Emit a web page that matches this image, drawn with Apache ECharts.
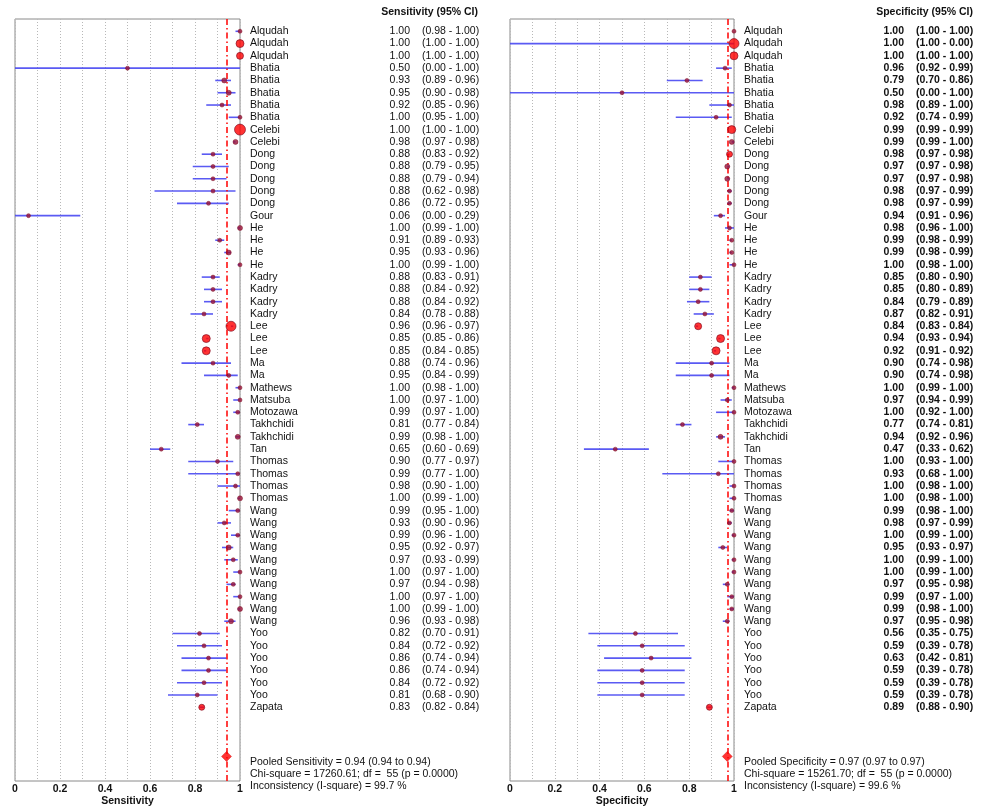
<!DOCTYPE html>
<html><head><meta charset="utf-8">
<script src="https://cdn.jsdelivr.net/npm/echarts@6/dist/echarts.min.js"></script>
<style>html,body{margin:0;padding:0;background:#fff}#c{width:981px;height:809px}</style>
</head><body><div id="c"></div>
<script>
const studies = ['Alqudah','Alqudah','Alqudah','Bhatia','Bhatia','Bhatia','Bhatia','Bhatia','Celebi','Celebi',
 'Dong','Dong','Dong','Dong','Dong','Gour','He','He','He','He','Kadry','Kadry','Kadry','Kadry',
 'Lee','Lee','Lee','Ma','Ma','Mathews','Matsuba','Motozawa','Takhchidi','Takhchidi','Tan',
 'Thomas','Thomas','Thomas','Thomas','Wang','Wang','Wang','Wang','Wang','Wang','Wang','Wang','Wang','Wang',
 'Yoo','Yoo','Yoo','Yoo','Yoo','Yoo','Zapata'];

const sensEst = [1.00,1.00,1.00,0.50,0.93,0.95,0.92,1.00,1.00,0.98,
 0.88,0.88,0.88,0.88,0.86,0.06,1.00,0.91,0.95,1.00,0.88,0.88,0.88,0.84,
 0.96,0.85,0.85,0.88,0.95,1.00,1.00,0.99,0.81,0.99,0.65,
 0.90,0.99,0.98,1.00,0.99,0.93,0.99,0.95,0.97,1.00,0.97,1.00,1.00,0.96,
 0.82,0.84,0.86,0.86,0.84,0.81,0.83];
const sensLo = [0.98,1.00,1.00,0.00,0.89,0.90,0.85,0.95,1.00,0.97,
 0.83,0.79,0.79,0.62,0.72,0.00,0.99,0.89,0.93,0.99,0.83,0.84,0.84,0.78,
 0.96,0.85,0.84,0.74,0.84,0.98,0.97,0.97,0.77,0.98,0.60,
 0.77,0.77,0.90,0.99,0.95,0.90,0.96,0.92,0.93,0.97,0.94,0.97,0.99,0.93,
 0.70,0.72,0.74,0.74,0.72,0.68,0.82];
const sensHi = [1.00,1.00,1.00,1.00,0.96,0.98,0.96,1.00,1.00,0.98,
 0.92,0.95,0.94,0.98,0.95,0.29,1.00,0.93,0.96,1.00,0.91,0.92,0.92,0.88,
 0.97,0.86,0.85,0.96,0.99,1.00,1.00,1.00,0.84,1.00,0.69,
 0.97,1.00,1.00,1.00,1.00,0.96,1.00,0.97,0.99,1.00,0.98,1.00,1.00,0.98,
 0.91,0.92,0.94,0.94,0.92,0.90,0.84];
const sensWeight = [4,8,7,4,5,5,4,4,11,5,
 4,4,4,4,4,4,5,4,5,4,4,4,4,4,
 10,8,8,4,4,4,4,4,4,5,4,
 4,4,4,5,4,4,4,5,4,4,4,4,5,5,
 4,4,4,4,4,4,6];

const specEst = [1.00,1.00,1.00,0.96,0.79,0.50,0.98,0.92,0.99,0.99,
 0.98,0.97,0.97,0.98,0.98,0.94,0.98,0.99,0.99,1.00,0.85,0.85,0.84,0.87,
 0.84,0.94,0.92,0.90,0.90,1.00,0.97,1.00,0.77,0.94,0.47,
 1.00,0.93,1.00,1.00,0.99,0.98,1.00,0.95,1.00,1.00,0.97,0.99,0.99,0.97,
 0.56,0.59,0.63,0.59,0.59,0.59,0.89];
const specLo = [1.00,1.00,1.00,0.92,0.70,0.00,0.89,0.74,0.99,0.99,
 0.97,0.97,0.97,0.97,0.97,0.91,0.96,0.98,0.98,0.98,0.80,0.80,0.79,0.82,
 0.83,0.93,0.91,0.74,0.74,0.99,0.94,0.92,0.74,0.92,0.33,
 0.93,0.68,0.98,0.98,0.98,0.97,0.99,0.93,0.99,0.99,0.95,0.97,0.98,0.95,
 0.35,0.39,0.42,0.39,0.39,0.39,0.88];
const specHi = [1.00,0.00,1.00,0.99,0.86,1.00,1.00,0.99,0.99,1.00,
 0.98,0.98,0.98,0.99,0.99,0.96,1.00,0.99,0.99,1.00,0.90,0.89,0.89,0.91,
 0.84,0.94,0.92,0.98,0.98,1.00,0.99,1.00,0.81,0.96,0.62,
 1.00,1.00,1.00,1.00,1.00,0.99,1.00,0.97,1.00,1.00,0.98,1.00,1.00,0.98,
 0.75,0.78,0.81,0.78,0.78,0.78,0.90];
const specWeight = [4,10,8,4,4,4,4,4,8,5,
 6,5,5,4,4,4,4,4,4,4,4,4,4,4,
 7,8,8,4,4,4,4,4,4,5,4,
 4,4,4,4,4,4,4,4,4,4,4,4,4,4,
 4,4,4,4,4,4,6];

const pooledSens = 0.94, pooledSpec = 0.97;
const pooledRow = 59;
const xTicks = ['0','0.2','0.4','0.6','0.8','1'];
const sensFooter = ['Pooled Sensitivity = 0.94 (0.94 to 0.94)','Chi-square = 17260.61; df =  55 (p = 0.0000)','Inconsistency (I-square) = 99.7 %'];
const specFooter = ['Pooled Specificity = 0.97 (0.97 to 0.97)','Chi-square = 15261.70; df =  55 (p = 0.0000)','Inconsistency (I-square) = 99.6 %'];

const FONT = '"Liberation Sans", Arial, sans-serif';
const FS = 10.5;
const chart = echarts.init(document.getElementById('c'), null, {renderer:'canvas'});

function xAxisDef(gi, name){
  return {gridIndex:gi, type:'value', min:0, max:1, interval:0.1,
    name:name, nameLocation:'middle', nameGap:15, nameMoveOverlap:false,
    nameTextStyle:{fontFamily:FONT, fontSize:FS, fontWeight:'bold', color:'#111'},
    axisLine:{show:false}, axisTick:{show:false},
    axisLabel:{margin:3, fontFamily:FONT, fontSize:FS, fontWeight:'bold', color:'#111',
      formatter:v=>{const k=Math.round(v*10); return k%2===0 ? xTicks[k/2] : '';}},
    splitLine:{show:true, lineStyle:{type:[1,2], color:'#b8b8b8', width:1}}};
}
function yAxisDef(gi){
  return {gridIndex:gi, type:'value', min:-1, max:61, interval:1, inverse:true, show:false};
}
function ciSeries(gi, lo, hi){
  return {type:'custom', xAxisIndex:gi, yAxisIndex:gi, silent:true,
    data: lo.map((v,i)=>[v, hi[i], i]),
    encode:{x:[0,1], y:2},
    renderItem:(p, api)=>{
      const a = api.coord([api.value(0), api.value(2)]);
      const b = api.coord([api.value(1), api.value(2)]);
      return {type:'line', shape:{x1:a[0],y1:a[1],x2:b[0],y2:b[1]},
        style:{stroke:'#4848f2', lineWidth:1.6, opacity:0.9}};
    }};
}
function ptSeries(gi, est, w, pooled){
  return {type:'scatter', xAxisIndex:gi, yAxisIndex:gi, silent:true, z:5,
    data: est.map((v,i)=>({value:[v,i], symbolSize:w[i],
      itemStyle:{color: w[i]>=6 ? '#ff0000' : '#9a1238', borderColor:'#7a0a20', borderWidth:w[i]>=6?0.8:0.6}})),
    markLine:{silent:true, symbol:'none', label:{show:false},
      lineStyle:{color:'#ff0000', type:[6,3,1.5,3], width:1.5},
      data:[{xAxis:pooled}]}};
}
function diamondSeries(gi, pooled){
  return {type:'scatter', xAxisIndex:gi, yAxisIndex:gi, silent:true, z:6,
    symbol:'diamond', symbolSize:[10,10],
    itemStyle:{color:'#ff0000', borderColor:'#cc0000', borderWidth:0.5},
    data:[[pooled, pooledRow]]};
}
function textSeries(gi, est, lo, hi, xName, xVal, xCI, boldVals){
  return {type:'custom', xAxisIndex:gi, yAxisIndex:gi, silent:true, clip:false,
    data: est.map((v,i)=>[1, i]),
    encode:{x:0, y:1},
    renderItem:(p, api)=>{
      const i = p.dataIndex;
      const y = api.coord([1, api.value(1)])[1];
      const st = {fontFamily:FONT, fontSize:FS, fill:'#111', textVerticalAlign:'middle'};
      const fw = boldVals ? 'bold' : 'normal';
      return {type:'group', children:[
        {type:'text', x:xName, y:y, style:Object.assign({}, st, {text:studies[i], textAlign:'left'})},
        {type:'text', x:xVal, y:y, style:Object.assign({}, st, {text:est[i].toFixed(2), textAlign:'right', fontWeight:fw})},
        {type:'text', x:xCI, y:y, style:Object.assign({}, st, {text:'(' + lo[i].toFixed(2) + ' - ' + hi[i].toFixed(2) + ')', textAlign:'left', fontWeight:fw})}
      ]};
    }};
}

const graphics = [];
graphics.push({type:'text', right:981-478, top:7, style:{text:'Sensitivity (95% CI)', font:'bold '+FS+'px '+FONT, fill:'#111'}});
graphics.push({type:'text', right:981-973, top:7, style:{text:'Specificity (95% CI)', font:'bold '+FS+'px '+FONT, fill:'#111'}});
[763,775,787].forEach((y,k)=>{
  graphics.push({type:'text', left:250, top:y-6, style:{text:sensFooter[k], font:FS+'px '+FONT, fill:'#111'}});
  graphics.push({type:'text', left:744, top:y-6, style:{text:specFooter[k], font:FS+'px '+FONT, fill:'#111'}});
});

chart.setOption({
  animation:false,
  backgroundColor:'#fff',
  grid:[
    {left:15, top:19, width:225, height:762, show:true, borderColor:'#8a8a8a', borderWidth:1, backgroundColor:'transparent', outerBoundsMode:'none', containLabel:false},
    {left:510, top:19, width:224, height:762, show:true, borderColor:'#8a8a8a', borderWidth:1, backgroundColor:'transparent', outerBoundsMode:'none', containLabel:false}
  ],
  xAxis:[xAxisDef(0,'Sensitivity'), xAxisDef(1,'Specificity')],
  yAxis:[yAxisDef(0), yAxisDef(1)],
  graphic: graphics,
  series:[
    ciSeries(0, sensLo, sensHi),
    ptSeries(0, sensEst, sensWeight, pooledSens),
    diamondSeries(0, pooledSens),
    textSeries(0, sensEst, sensLo, sensHi, 250, 410, 422, false),
    ciSeries(1, specLo, specHi),
    ptSeries(1, specEst, specWeight, pooledSpec),
    diamondSeries(1, pooledSpec),
    textSeries(1, specEst, specLo, specHi, 744, 904, 916, true)
  ]
});
</script></body></html>
